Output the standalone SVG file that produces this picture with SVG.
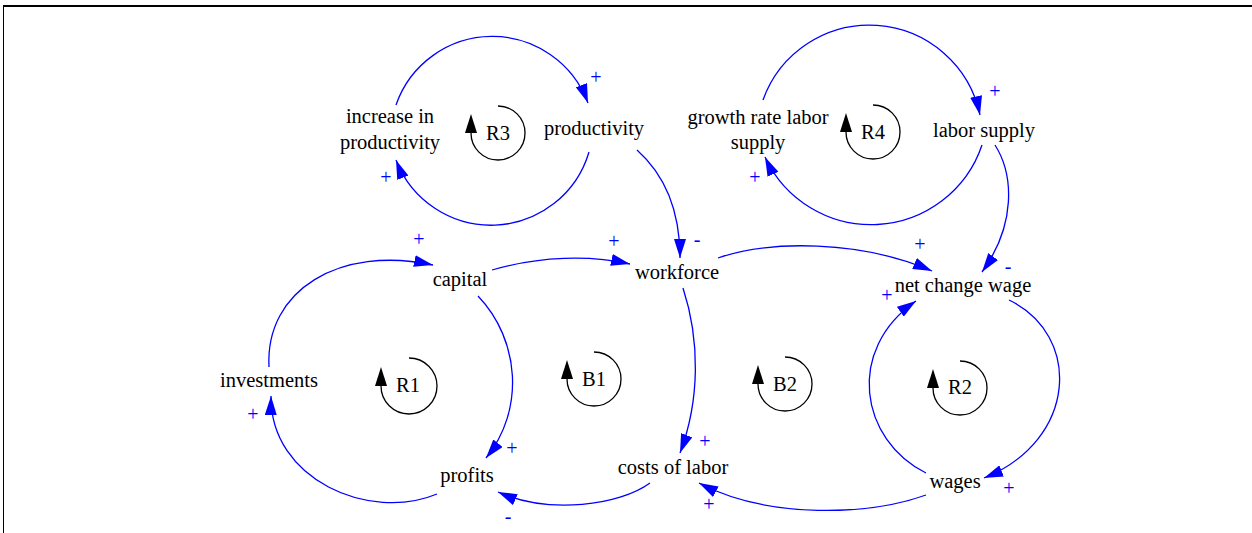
<svg xmlns="http://www.w3.org/2000/svg" width="1252" height="533" viewBox="0 0 1252 533">
<style>
text{font-family:'Liberation Serif','Times New Roman',serif}
.n{font-size:20.5px;fill:#000;text-anchor:middle}
.s{font-size:20px;fill:#0000ff;text-anchor:middle}
.e{fill:none;stroke:#0000ff;stroke-width:1.3;marker-end:url(#ah)}
.lp{fill:none;stroke:#000;stroke-width:1.3}
</style>
<defs>
<marker id="ah" markerUnits="userSpaceOnUse" viewBox="0 0 19 12" refX="19" refY="6" markerWidth="19" markerHeight="12" orient="auto">
<path d="M0,0 L19,6 L0,12 z" fill="#0000ff"/>
</marker>
</defs>
<rect width="1252" height="533" fill="#fff"/>
<line x1="3" y1="6" x2="1252" y2="6" stroke="#000" stroke-width="2"/>
<line x1="3.5" y1="6" x2="3.5" y2="533" stroke="#000" stroke-width="1"/>
<g id="connectors">
<path class="e" d="M396,105 A102,102 0 0 1 588,103"/>
<path class="e" d="M589,152 A102,102 0 0 1 396,160"/>
<path class="e" d="M763,100 A113,113 0 0 1 980,115"/>
<path class="e" d="M982,145 A117,117 0 0 1 765,157"/>
<path class="e" d="M995,145 C1014,175 1016,225 982,272"/>
<path class="e" d="M637,150 C665,175 680,210 680,258"/>
<path class="e" d="M492,270 C540,256 590,255 630,264"/>
<path class="e" d="M718,258 C770,240 860,240 932,271"/>
<path class="e" d="M683,288 C700,340 700,400 680,453"/>
<path class="e" d="M478,296 C520,340 525,410 486,458"/>
<path class="e" d="M437,494 C370,522 270,480 271,396"/>
<path class="e" d="M269,367 C265,290 340,245 433,265"/>
<path class="e" d="M650,483 C620,505 550,515 498,492"/>
<path class="e" d="M926,495 C870,515 770,520 699,483"/>
<path class="e" d="M1009,300 C1082,335 1078,440 984,478"/>
<path class="e" d="M926,473 C860,440 845,350 916,301"/>
<g id="signs">
<text class="s" x="596" y="84">+</text>
<text class="s" x="386" y="184">+</text>
<text class="s" x="995" y="98">+</text>
<text class="s" x="755" y="184">+</text>
<text class="s" x="1008" y="273">-</text>
<text class="s" x="697" y="246">-</text>
<text class="s" x="614" y="248">+</text>
<text class="s" x="920" y="251">+</text>
<text class="s" x="705" y="448">+</text>
<text class="s" x="512" y="455">+</text>
<text class="s" x="253" y="421">+</text>
<text class="s" x="419" y="246">+</text>
<text class="s" x="508" y="523">-</text>
<text class="s" x="709" y="511">+</text>
<text class="s" x="1009" y="495">+</text>
<text class="s" x="887" y="302">+</text>
</g>
</g>
<g id="increase_in_productivity"><text class="n" x="390" y="123">increase in</text><text class="n" x="390" y="149">productivity</text></g>
<g id="productivity"><text class="n" x="594" y="135">productivity</text></g>
<g id="growth_rate_labor_supply"><text class="n" x="758" y="124">growth rate labor</text><text class="n" x="758" y="149">supply</text></g>
<g id="labor_supply"><text class="n" x="984" y="137">labor supply</text></g>
<g id="capital"><text class="n" x="460" y="286">capital</text></g>
<g id="workforce"><text class="n" x="677" y="279">workforce</text></g>
<g id="net_change_wage"><text class="n" x="963" y="292">net change wage</text></g>
<g id="investments"><text class="n" x="269" y="387">investments</text></g>
<g id="profits"><text class="n" x="467" y="482">profits</text></g>
<g id="costs_of_labor"><text class="n" x="673" y="474">costs of labor</text></g>
<g id="wages"><text class="n" x="955" y="488">wages</text></g>
<g id="loop_R3"><path class="lp" d="M498,106 A27,27 0 1 1 471,133"/><path d="M465,133 L471,114 L477,133 z"/><text class="n" x="498" y="140">R3</text></g>
<g id="loop_R4"><path class="lp" d="M873,105 A27,27 0 1 1 846,132"/><path d="M840,132 L846,113 L852,132 z"/><text class="n" x="873" y="139">R4</text></g>
<g id="loop_R1"><path class="lp" d="M409,358 A28,28 0 1 1 381,386"/><path d="M375,386 L381,367 L387,386 z"/><text class="n" x="408" y="392">R1</text></g>
<g id="loop_B1"><path class="lp" d="M594,352 A27,27 0 1 1 567,379"/><path d="M561,379 L567,360 L573,379 z"/><text class="n" x="594" y="386">B1</text></g>
<g id="loop_B2"><path class="lp" d="M785,357 A27,27 0 1 1 758,384"/><path d="M752,384 L758,365 L764,384 z"/><text class="n" x="785" y="391">B2</text></g>
<g id="loop_R2"><path class="lp" d="M960,361 A27,27 0 1 1 933,388"/><path d="M927,388 L933,369 L939,388 z"/><text class="n" x="960" y="394">R2</text></g>
</svg>
